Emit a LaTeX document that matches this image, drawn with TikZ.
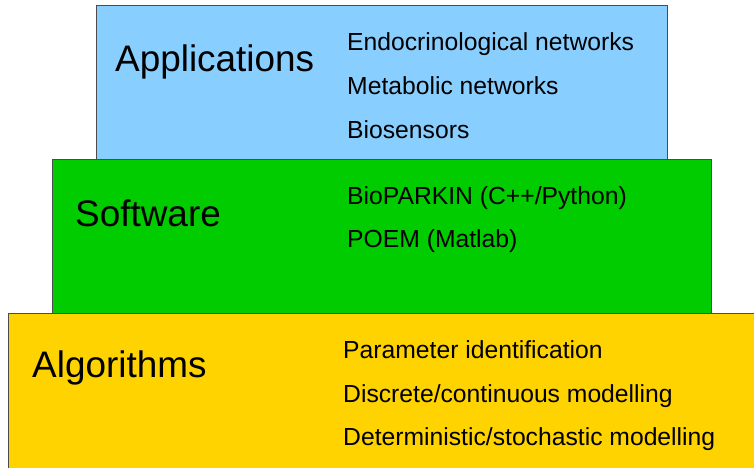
\documentclass[tikz,border=0pt]{standalone}
\usepackage{fontspec}
\setmainfont{Liberation Sans}
\usepackage{tikz}

\definecolor{appblue}{RGB}{136,206,255}
\definecolor{softgreen}{RGB}{0,204,0}
\definecolor{alggold}{RGB}{255,211,0}

\tikzset{
  layer/.style={draw=black!70,line width=0.8pt,anchor=north west,inner sep=0pt},
  head/.style={anchor=base west,inner sep=0pt,font=\fontsize{36.9}{40}\selectfont},
  item/.style={anchor=base west,inner sep=0pt,font=\fontsize{24.7}{28}\selectfont}
}

\begin{document}
\begin{tikzpicture}[x=1pt,y=-1pt]
        \useasboundingbox (0,0) rectangle (754,467);
        \clip (0,0) rectangle (754,467);

        % the three layers
        \node[layer,fill=appblue,minimum width=571pt,minimum height=154pt] (apps) at (96,5) {};
        \node[layer,fill=alggold,minimum width=760pt,minimum height=160pt] (algs) at (8,313) {};
        \node[layer,fill=softgreen,minimum width=659pt,minimum height=154pt] (soft) at (52,159) {};

        \node[head] (appsT) at (115,71) {Applications};
        \node[item] (a1) at (347,50) {Endocrinological networks};
        \node[item] (a2) at (347,94) {Metabolic networks};
        \node[item] (a3) at (347,138) {Biosensors};

        \node[head] (softT) at (75,226) {Software};
        \node[item] (s1) at (347,204) {BioPARKIN (C++/Python)};
        \node[item] (s2) at (347,247.5) {POEM (Matlab)};

        \node[head] (algsT) at (32,377.5) {Algorithms};
        \node[item] (g1) at (343,358) {Parameter identification};
        \node[item] (g2) at (343,402) {Discrete/continuous modelling};
        \node[item] (g3) at (343,445.5) {Deterministic/stochastic modelling};
\end{tikzpicture}
\end{document}
